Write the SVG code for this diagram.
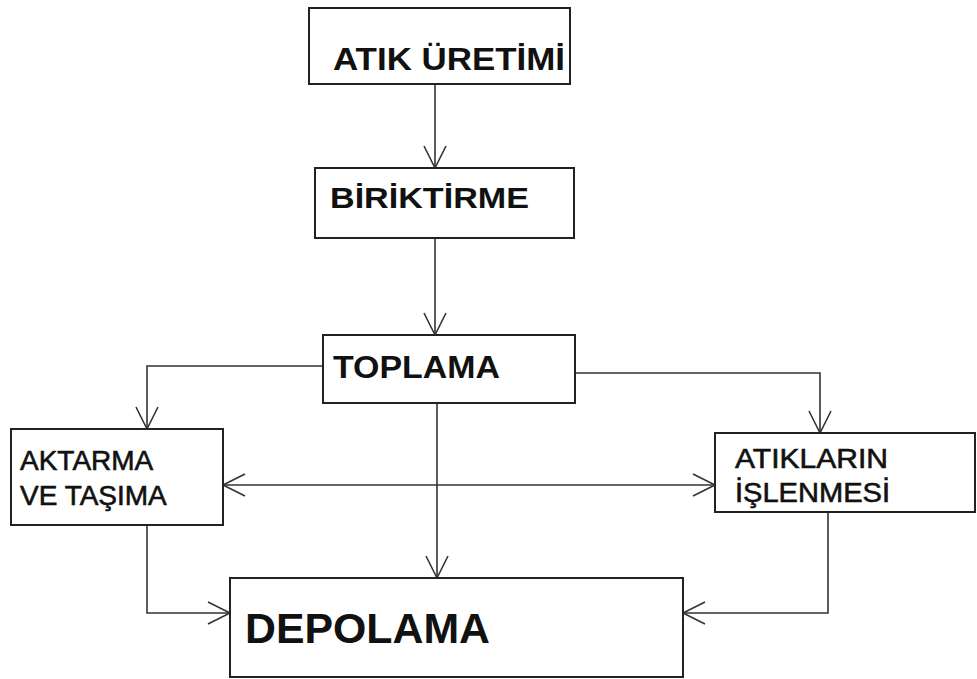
<svg xmlns="http://www.w3.org/2000/svg" width="977" height="679" viewBox="0 0 977 679">
<style>
.box{fill:#fff;stroke:#222;stroke-width:2}
.t{font-family:"Liberation Sans",Arial,sans-serif;fill:#111}
.b{font-weight:bold}
.m{stroke:#111;stroke-width:0.6}
.c{fill:none;stroke:#333;stroke-width:1.6}
</style>
<defs>
<marker id="a" markerUnits="userSpaceOnUse" markerWidth="30" markerHeight="30" refX="22" refY="11" orient="auto-start-reverse" overflow="visible">
<path d="M0,0 L22,11 L0,22" fill="none" stroke="#333" stroke-width="1.6"/>
</marker>
</defs>
<rect width="977" height="679" fill="#fff"/>
<g id="connectors">
<path class="c" d="M435,83 V168" marker-end="url(#a)"/>
<path class="c" d="M435,238 V335" marker-end="url(#a)"/>
<path class="c" d="M323,366 H147 V429" marker-end="url(#a)"/>
<path class="c" d="M223,485 H715" marker-start="url(#a)" marker-end="url(#a)"/>
<path class="c" d="M575,373 H820 V433" marker-end="url(#a)"/>
<path class="c" d="M437,403 V578" marker-end="url(#a)"/>
<path class="c" d="M147,525 V613 H230" marker-end="url(#a)"/>
<path class="c" d="M828,512 V613 H683" marker-end="url(#a)"/>
</g>
<g id="uretim">
<rect class="box" x="309" y="8" width="261" height="76"/>
<text class="t b" x="333" y="70" font-size="32" textLength="232" lengthAdjust="spacingAndGlyphs">ATIK ÜRETİMİ</text>
</g>
<g id="biriktirme">
<rect class="box" x="315" y="168" width="259" height="70"/>
<text class="t b" x="330" y="208" font-size="30" textLength="199" lengthAdjust="spacingAndGlyphs">BİRİKTİRME</text>
</g>
<g id="toplama">
<rect class="box" x="323" y="335" width="252" height="68"/>
<text class="t b" x="333" y="378" font-size="32" textLength="167" lengthAdjust="spacingAndGlyphs">TOPLAMA</text>
</g>
<g id="aktarma">
<rect class="box" x="11" y="429" width="212" height="96"/>
<text class="t m" x="20" y="470" font-size="28">AKTARMA</text>
<text class="t m" x="20" y="505" font-size="28">VE TAŞIMA</text>
</g>
<g id="isleme">
<rect class="box" x="715" y="433" width="260" height="79"/>
<text class="t m" x="735" y="468" font-size="28" textLength="153" lengthAdjust="spacingAndGlyphs">ATIKLARIN</text>
<text class="t m" x="735" y="502" font-size="28" textLength="155" lengthAdjust="spacingAndGlyphs">İŞLENMESİ</text>
</g>
<g id="depolama">
<rect class="box" x="230" y="578" width="453" height="99"/>
<text class="t b" x="245" y="643" font-size="42" textLength="245" lengthAdjust="spacingAndGlyphs">DEPOLAMA</text>
</g>
</svg>
